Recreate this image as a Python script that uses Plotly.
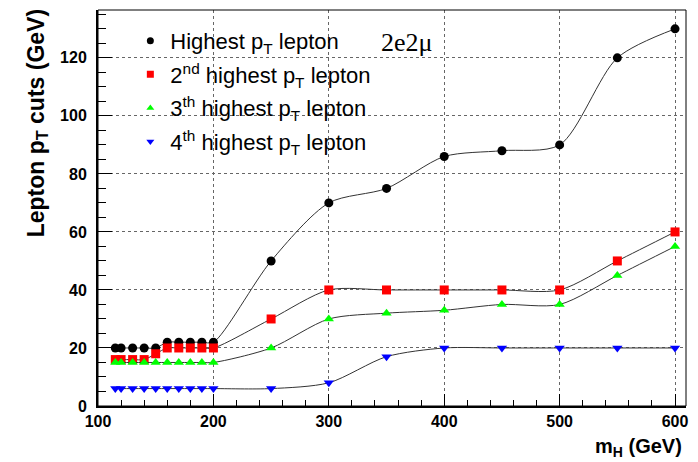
import plotly.graph_objects as go

# Higgs mass points (GeV)
m_h = [115, 120, 130, 140, 150, 160, 170, 180, 190, 200, 250, 300, 350, 400, 450, 500, 550, 600]

# pT cut values (GeV) for each ordered lepton
pt_lead = [20, 20, 20, 20, 20, 22, 22, 22, 22, 22, 50, 70, 75, 86, 88, 90, 120, 130]
pt_second = [16, 16, 16, 16, 18, 20, 20, 20, 20, 20, 30, 40, 40, 40, 40, 40, 50, 60]
pt_third = [15, 15, 15, 15, 15, 15, 15, 15, 15, 15, 20, 30, 32, 33, 35, 35, 45, 55]
pt_fourth = [6, 6, 6, 6, 6, 6, 6, 6, 6, 6, 6, 8, 17, 20, 20, 20, 20, 20]

names = [
    "Highest p<sub>T</sub> lepton",
    "2<sup>nd</sup> highest p<sub>T</sub> lepton",
    "3<sup>th</sup> highest p<sub>T</sub> lepton",
    "4<sup>th</sup> highest p<sub>T</sub> lepton",
]
colors = ["#000000", "#ff0000", "#00ff00", "#0000ff"]
symbols = ["circle", "square", "triangle-up", "triangle-down"]

fig = go.Figure()
for i, ys in enumerate([pt_lead, pt_second, pt_third, pt_fourth]):
    # smooth interpolating curve
    fig.add_trace(go.Scatter(
        x=m_h, y=ys, mode="lines", showlegend=False, hoverinfo="skip",
        line=dict(color="#333333", width=1, shape="spline", smoothing=0.8),
    ))
    # measured points
    fig.add_trace(go.Scatter(
        x=m_h, y=ys, mode="markers", showlegend=False, name=names[i],
        marker=dict(color=colors[i], symbol=symbols[i], size=9, line=dict(width=0)),
    ))
    # legend entry with a small marker
    fig.add_trace(go.Scatter(
        x=[None], y=[None], mode="markers", name=names[i], legendgroup=f"g{i}",
        marker=dict(color=colors[i], symbol=symbols[i], size=7, line=dict(width=0)),
    ))

axis_font = dict(family="Liberation Sans, Arial", size=16, color="black", weight="bold")

fig.update_xaxes(
    range=[100, 609.5], showline=True, linecolor="black", linewidth=2,
    ticks="inside", ticklen=12, tickcolor="black", tickwidth=1, dtick=100, tick0=100,
    tickfont=axis_font, showgrid=True, gridcolor="#666666", griddash="dot", gridwidth=1,
    minor=dict(dtick=20, tick0=100, ticks="inside", ticklen=6, tickcolor="black", showgrid=False),
    zeroline=False,
)
fig.update_yaxes(
    range=[0, 136.5], showline=True, linecolor="black", linewidth=2,
    ticks="inside", ticklen=14, tickcolor="black", tickwidth=1, dtick=20, tick0=0,
    tickfont=axis_font, showgrid=True, gridcolor="#666666", griddash="dot", gridwidth=1,
    minor=dict(dtick=5, tick0=0, ticks="inside", ticklen=8, tickcolor="black", showgrid=False),
    zeroline=False, ticklabelstandoff=6,
)

# thin frame on the top and right sides
fig.add_shape(type="rect", xref="paper", yref="paper", x0=0, y0=0, x1=1, y1=1,
              line=dict(color="black", width=1), layer="above")

fig.add_annotation(
    text="Lepton p<sub>T</sub> cuts (GeV)", textangle=-90, showarrow=False,
    xref="paper", yref="paper", x=-0.103, y=1.008, xanchor="center", yanchor="top",
    font=dict(family="Liberation Sans, Arial", size=23, color="black", weight="bold"),
)
fig.add_annotation(
    text="m<sub>H</sub> (GeV)", showarrow=False,
    xref="paper", yref="paper", x=0.997, y=-0.105, xanchor="right", yanchor="middle",
    font=dict(family="Liberation Sans, Arial", size=20, color="black", weight="bold"),
)
fig.add_annotation(
    text="2e2\u03bc", showarrow=False,
    xref="paper", yref="paper", x=0.478, y=0.918, xanchor="left", yanchor="middle",
    font=dict(family="Liberation Serif, Times New Roman", size=26, color="black"),
)

fig.update_layout(
    width=698, height=462,
    margin=dict(l=98, r=10, t=10, b=56),
    paper_bgcolor="white", plot_bgcolor="white",
    showlegend=True,
    legend=dict(
        x=0.055, y=0.975, xanchor="left", yanchor="top",
        bgcolor="rgba(255,255,255,0)", borderwidth=0,
        font=dict(family="Liberation Sans, Arial", size=22, color="black"),
        traceorder="grouped", tracegroupgap=2,
    ),
)

fig.write_html("out.html")
